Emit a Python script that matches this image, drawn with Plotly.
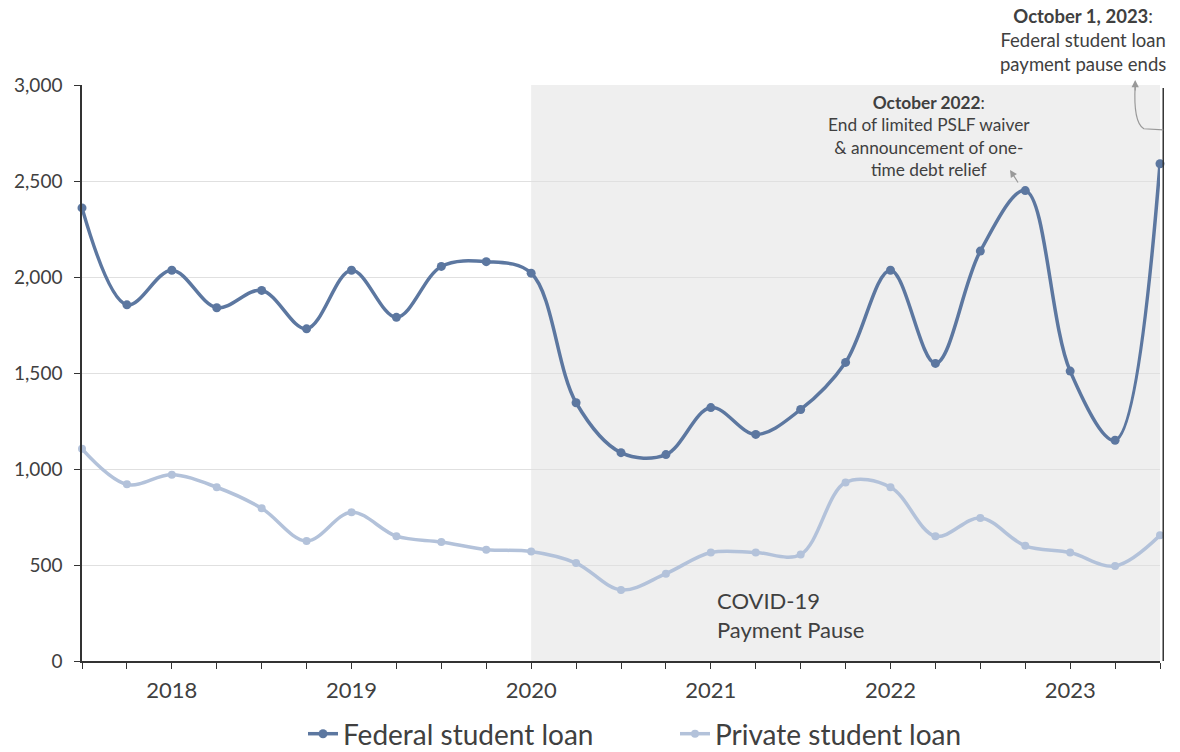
import plotly.graph_objects as go

quarters = list(range(25))
year_labels = {2: "2018", 6: "2019", 10: "2020", 14: "2021", 18: "2022", 22: "2023"}

federal = [2360, 1855, 2035, 1840, 1930, 1730, 2035, 1790, 2055, 2080, 2020,
           1345, 1085, 1075, 1320, 1180, 1310, 1555, 2035, 1550, 2135, 2450,
           1510, 1150, 2590]
private = [1105, 920, 970, 905, 795, 625, 775, 650, 620, 580, 570, 510, 370,
           455, 565, 565, 555, 930, 905, 650, 745, 600, 565, 495, 655]

FED = "#5c77a0"
PRI = "#b3c2da"
TXT = "#404040"
FONT = "Lato"

fig = go.Figure()
fig.add_trace(go.Scatter(x=quarters, y=federal, name="Federal student loan",
                         mode="lines+markers", line=dict(color=FED, width=3.5, shape="spline", smoothing=1.0),
                         marker=dict(size=9, color=FED), cliponaxis=False))
fig.add_trace(go.Scatter(x=quarters, y=private, name="Private student loan",
                         mode="lines+markers", line=dict(color=PRI, width=3.5, shape="spline", smoothing=1.0),
                         marker=dict(size=8, color=PRI), cliponaxis=False))

ticktext = [year_labels.get(i, "") for i in quarters]

fig.update_layout(
    width=1180, height=752,
    margin=dict(l=82, r=20, t=85, b=91, autoexpand=False),
    plot_bgcolor="white", paper_bgcolor="white",
    font=dict(family=FONT, color=TXT),
    showlegend=True,
    legend=dict(orientation="h", x=303 / 1180, xanchor="left", xref="container",
                y=1 - 734 / 752, yanchor="middle", yref="container",
                font=dict(size=28, color=TXT), itemwidth=30, tracegroupgap=0,
                entrywidth=327, entrywidthmode="pixels"),
    xaxis=dict(range=[0, 24], tickmode="array", tickvals=quarters, ticktext=ticktext,
               ticks="outside", ticklen=6, tickcolor="#333", showgrid=False, zeroline=False,
               showline=True, linecolor="#333", linewidth=1.5,
               ticklabelstandoff=3,
               tickfont=dict(size=22, color=TXT)),
    yaxis=dict(range=[0, 3000], tickvals=[0, 500, 1000, 1500, 2000, 2500, 3000],
               tickformat=",", ticks="outside", ticklen=6, tickcolor="#333",
               showgrid=True, gridcolor="#e0e0e0", gridwidth=1, zeroline=False,
               showline=True, linecolor="#333", linewidth=1.5,
               ticklabelstandoff=8,
               tickfont=dict(size=19, color=TXT)),
)

# shaded COVID pause region
fig.add_shape(type="rect", xref="x", yref="paper", x0=10, x1=24.1, y0=0, y1=1,
              fillcolor="#efefef", line=dict(width=0), layer="below")
# right edge vertical line
fig.add_shape(type="line", xref="paper", yref="paper", x0=1.003, x1=1.003, y0=0, y1=0.995,
              line=dict(color="#333", width=1.5))

fig.add_annotation(x=14.1, y=395, xref="x", yref="y", xanchor="left", yanchor="top",
                   text="COVID-19<br>Payment Pause", showarrow=False, align="left",
                   font=dict(size=22, color=TXT))

fig.add_annotation(xref="paper", yref="paper", x=(929 - 82) / 1078, y=(661 - 90) / 576,
                   xanchor="center", yanchor="top", align="center", showarrow=False,
                   text="<b>October 2022</b>:<br>End of limited PSLF waiver<br>&amp; announcement of one-<br>time debt relief",
                   font=dict(size=17.3, color=TXT))
fig.add_annotation(xref="paper", yref="paper", x=(1010 - 82) / 1078, y=(661 - 170) / 576,
                   ax=9, ay=14, showarrow=True, arrowhead=2, arrowsize=1.2, arrowwidth=1.2,
                   arrowcolor="#999", text="")

fig.add_annotation(xref="paper", yref="paper", x=(1083 - 82) / 1078, y=(661 - 3) / 576,
                   xanchor="center", yanchor="top", align="center", showarrow=False,
                   text="<b>October 1, 2023</b>:<br>Federal student loan<br>payment pause ends",
                   font=dict(size=18.5, color=TXT))
fig.add_shape(type="path", xref="paper", yref="paper",
              path="M 1.003,0.922 L 0.985,0.924 Q 0.975,0.935 0.977,1.0",
              line=dict(color="#999", width=1.2))
fig.add_annotation(xref="paper", yref="paper", x=0.977, y=(661 - 80) / 576,
                   ax=0, ay=12, showarrow=True, arrowhead=2, arrowsize=1.2, arrowwidth=1.2,
                   arrowcolor="#999", text="")

fig.write_html("out.html")
